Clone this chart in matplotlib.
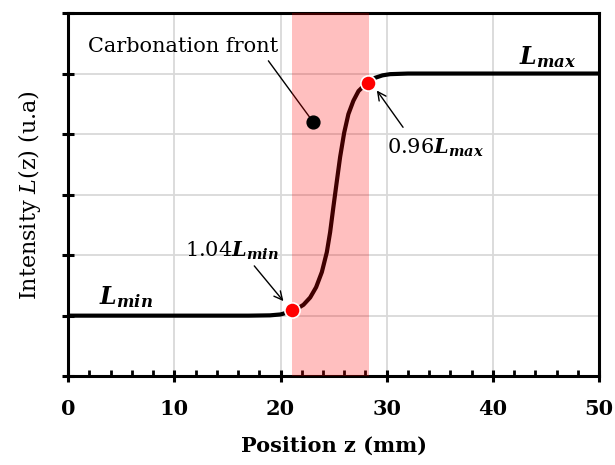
import numpy as np
import matplotlib.pyplot as plt
from matplotlib.ticker import MultipleLocator

plt.rcParams['font.family'] = 'DejaVu Serif'
plt.rcParams['mathtext.fontset'] = 'custom'
plt.rcParams['mathtext.rm'] = 'DejaVu Serif'
plt.rcParams['mathtext.it'] = 'DejaVu Serif:italic'
plt.rcParams['mathtext.bf'] = 'DejaVu Serif:bold'
plt.rcParams['mathtext.bfit'] = 'DejaVu Serif:bold:italic'

# intensity profile (Lmin = 1, Lmax = 5)
z = [0, 10, 17, 19, 20, 20.6, 21.12, 21.7, 22.16, 22.79, 23.35, 23.89, 24.36,
     24.67, 24.98, 25.30, 25.61, 25.99, 26.39, 26.86, 27.34, 27.8, 28.22, 28.91,
     29.6, 30.32, 32.0, 40, 50]
L = [1.0, 1.0, 1.0, 1.005, 1.02, 1.05, 1.10, 1.13, 1.18, 1.30, 1.47, 1.72, 2.05,
     2.38, 2.80, 3.22, 3.62, 4.02, 4.33, 4.55, 4.71, 4.79, 4.85, 4.93,
     4.97, 4.99, 5.0, 5.0, 5.0]

front_z = [21.1, 28.3]      # shaded carbonation zone
marks_z = [21.12, 28.22]    # 1.04 Lmin and 0.96 Lmax points
marks_L = [1.10, 4.85]
front_pt = (23.07, 4.2)

fig = plt.figure(figsize=[6.15, 4.65], dpi=100)
ax = fig.add_axes([0.111, 0.191, 0.863, 0.781])

ax.plot(z, L, color='black', lw=3.0, zorder=3, solid_joinstyle='round')
ax.axvspan(front_z[0], front_z[1], color='red', alpha=0.25, lw=0, zorder=4)
ax.scatter(marks_z, marks_L, s=120, color='red', edgecolor='white', lw=1.2, zorder=6)
ax.scatter([front_pt[0]], [front_pt[1]], s=85, color='black', zorder=6)

ax.set_xlim(0, 50)
ax.set_ylim(0, 6)
ax.xaxis.set_major_locator(MultipleLocator(10))
ax.xaxis.set_minor_locator(MultipleLocator(2))
ax.yaxis.set_major_locator(MultipleLocator(1))
ax.set_yticklabels([])
ax.grid(True, which='major', color='#d9d9d9', lw=1.3, zorder=0)
ax.set_axisbelow(True)

for s in ax.spines.values():
    s.set_linewidth(2.2)
ax.tick_params(axis='both', which='major', direction='inout', length=9, width=2.2)
ax.tick_params(axis='x', which='minor', direction='in', length=4, width=2)
ax.tick_params(axis='x', which='major', pad=12, labelsize=15)
for t in ax.get_xticklabels():
    t.set_fontweight('bold')

ax.set_xlabel('Position z (mm)', fontsize=15, fontweight='bold', labelpad=12)
ax.set_ylabel('Intensity $L$(z) (u.a)', fontsize=16, labelpad=10)

ax.annotate('Carbonation front', xy=front_pt, xytext=(10.8, 5.45), fontsize=15,
            ha='center', va='center',
            arrowprops=dict(arrowstyle='-', color='black', lw=1, relpos=(0.93, 0.0),
                            shrinkA=2, shrinkB=0))
ax.annotate(r'$1.04\mathbfit{L}_{\mathbfit{min}}$', xy=(20.27, 1.24),
            xytext=(15.45, 2.07), fontsize=15, ha='center', va='center',
            arrowprops=dict(arrowstyle='->', color='black', lw=1, relpos=(0.70, 0.0),
                            shrinkA=1, shrinkB=0))
ax.annotate(r'$0.96\mathbfit{L}_{\mathbfit{max}}$', xy=(29.07, 4.72),
            xytext=(34.56, 3.77), fontsize=15, ha='center', va='center',
            arrowprops=dict(arrowstyle='->', color='black', lw=1, relpos=(0.24, 1.0),
                            shrinkA=6, shrinkB=0))
ax.text(45.2, 5.28, r'$\mathbfit{L}_{\mathbfit{max}}$', fontsize=17, ha='center', va='center')
ax.text(5.4, 1.3, r'$\mathbfit{L}_{\mathbfit{min}}$', fontsize=17, ha='center', va='center')

fig.savefig('out.png', dpi=100)
